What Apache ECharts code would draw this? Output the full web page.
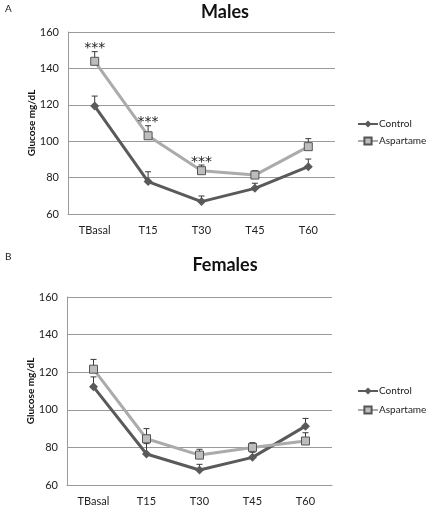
<!DOCTYPE html>
<html><head><meta charset="utf-8">
<script src="https://cdn.jsdelivr.net/npm/echarts@6/dist/echarts.min.js"></script>
<style>html,body{margin:0;padding:0;background:#fff}#c{width:427px;height:507px}</style>
</head><body><div id="c"></div>
<script>
const categories = ['TBasal','T15','T30','T45','T60'];
const yTicks = [60, 80, 100, 120, 140, 160];
const malesControl = [119.3, 77.8, 66.8, 74.1, 86.0];
const malesControlErr = [5.5, 5.4, 3.1, 2.8, 4.2];
const malesAspartame = [143.9, 103.0, 83.8, 81.4, 97.0];
const malesAspartameErr = [5.3, 5.5, 3.1, 2.4, 4.4];
const malesSig = ['***','***','***','',''];
const femalesControl = [112.2, 76.5, 68.0, 74.7, 91.3];
const femalesControlErr = [5.3, 5.5, 3.0, 2.7, 4.1];
const femalesAspartame = [121.6, 84.6, 75.9, 80.0, 83.4];
const femalesAspartameErr = [5.2, 5.4, 3.1, 2.5, 4.4];
const femalesSig = ['','','','',''];

const FONT = 'Lato';
const ctlColor = '#5a5a5a', aspColor = '#ababab';

function errSeries(vals, errs, gi){
  return {
    type:'custom', xAxisIndex:gi, yAxisIndex:gi, z:1, silent:true,
    data: vals.map((v,i)=>[i, v, errs[i]]),
    encode:{x:0,y:1},
    renderItem:function(params, api){
      const x=api.value(0), v=api.value(1), e=api.value(2);
      const p0=api.coord([x,v]), p1=api.coord([x,v+e]);
      const st={stroke:'#3a3a3a', lineWidth:1};
      return {type:'group', children:[
        {type:'line', shape:{x1:p0[0],y1:p0[1],x2:p1[0],y2:p1[1]}, style:st},
        {type:'line', shape:{x1:p1[0]-3,y1:p1[1],x2:p1[0]+3,y2:p1[1]}, style:st}
      ]};
    }
  };
}
function sigSeries(vals, errs, sig, gi){
  return {
    type:'custom', xAxisIndex:gi, yAxisIndex:gi, z:5, silent:true,
    data: vals.map((v,i)=>[i, v+errs[i]]),
    encode:{x:0,y:1},
    renderItem:function(params, api){
      const i=api.value(0);
      const s=sig[i];
      if(!s) return null;
      const p=api.coord([i, api.value(1)]);
      return {type:'text', style:{text:s, x:p[0], y:p[1]+4, textAlign:'center', textVerticalAlign:'bottom', font:'14px "DejaVu Sans"', fill:'#222'}};
    }
  };
}
function lineSeries(name, vals, gi, isCtl){
  return {
    name:name, type:'line', xAxisIndex:gi, yAxisIndex:gi, z:3,
    data: vals,
    symbol: isCtl ? 'diamond' : 'rect',
    symbolSize: isCtl ? 9 : 8,
    lineStyle:{color: isCtl?ctlColor:aspColor, width:3},
    itemStyle: isCtl ? {color:ctlColor} : {color:'#bdbdbd', borderColor:'#555', borderWidth:1},
    color: isCtl?ctlColor:aspColor,
    emphasis:{disabled:true}, animation:false
  };
}
function xAx(gi){
  return {type:'category', gridIndex:gi, data:categories, boundaryGap:true,
    axisLine:{lineStyle:{color:'#9a9a9a'}}, axisTick:{show:false},
    axisLabel:{color:'#222', fontFamily:FONT, fontSize:11, margin:11}};
}
function yAx(gi){
  return {type:'value', gridIndex:gi, min:yTicks[0], max:yTicks[yTicks.length-1], interval:20,
    name:'Glucose mg/dL', nameLocation:'middle', nameGap:31, nameMoveOverlap:false,
    nameTextStyle:{fontFamily:FONT, fontSize:10, fontWeight:'bold', color:'#111'},
    axisLine:{show:true, lineStyle:{color:'#9a9a9a'}}, axisTick:{show:false},
    splitLine:{lineStyle:{color:'#9a9a9a'}},
    axisLabel:{color:'#222', fontFamily:FONT, fontSize:11, margin:9}};
}
const chart = echarts.init(document.getElementById('c'), null, {renderer:'canvas'});
chart.setOption({
  animation:false,
  backgroundColor:'#fff',
  title:[
    {text:'Males', left:220, top:-2, textAlign:'center', textStyle:{fontFamily:FONT, fontSize:18, fontWeight:'bold', color:'#111'}},
    {text:'Females', left:220, top:251, textAlign:'center', textStyle:{fontFamily:FONT, fontSize:18, fontWeight:'bold', color:'#111'}},
    {text:'A', left:0, top:-1, textStyle:{fontFamily:FONT, fontSize:10, fontWeight:'normal', color:'#222'}},
    {text:'B', left:0, top:247, textStyle:{fontFamily:FONT, fontSize:10, fontWeight:'normal', color:'#222'}}
  ],
  grid:[
    {left:68, right:92, top:32, height:182},
    {left:67, right:95, top:297, height:188}
  ],
  xAxis:[xAx(0), xAx(1)],
  yAxis:[yAx(0), yAx(1)],
  legend:[
    {orient:'vertical', left:352, top:114, itemGap:7, itemWidth:20, itemHeight:9,
     data:['Control','Aspartame'], textStyle:{fontFamily:FONT, fontSize:10, color:'#222', padding:[0,0,0,-4]}, selectedMode:false},
    {orient:'vertical', left:352, top:381, itemGap:9, itemWidth:20, itemHeight:9,
     data:['Control','Aspartame'], textStyle:{fontFamily:FONT, fontSize:10, color:'#222', padding:[0,0,0,-4]}, selectedMode:false}
  ],
  series:[
    errSeries(malesControl, malesControlErr, 0),
    errSeries(malesAspartame, malesAspartameErr, 0),
    lineSeries('Control', malesControl, 0, true),
    lineSeries('Aspartame', malesAspartame, 0, false),
    sigSeries(malesAspartame, malesAspartameErr, malesSig, 0),
    errSeries(femalesControl, femalesControlErr, 1),
    errSeries(femalesAspartame, femalesAspartameErr, 1),
    lineSeries('Control', femalesControl, 1, true),
    lineSeries('Aspartame', femalesAspartame, 1, false),
    sigSeries(femalesAspartame, femalesAspartameErr, femalesSig, 1)
  ]
});
</script></body></html>
